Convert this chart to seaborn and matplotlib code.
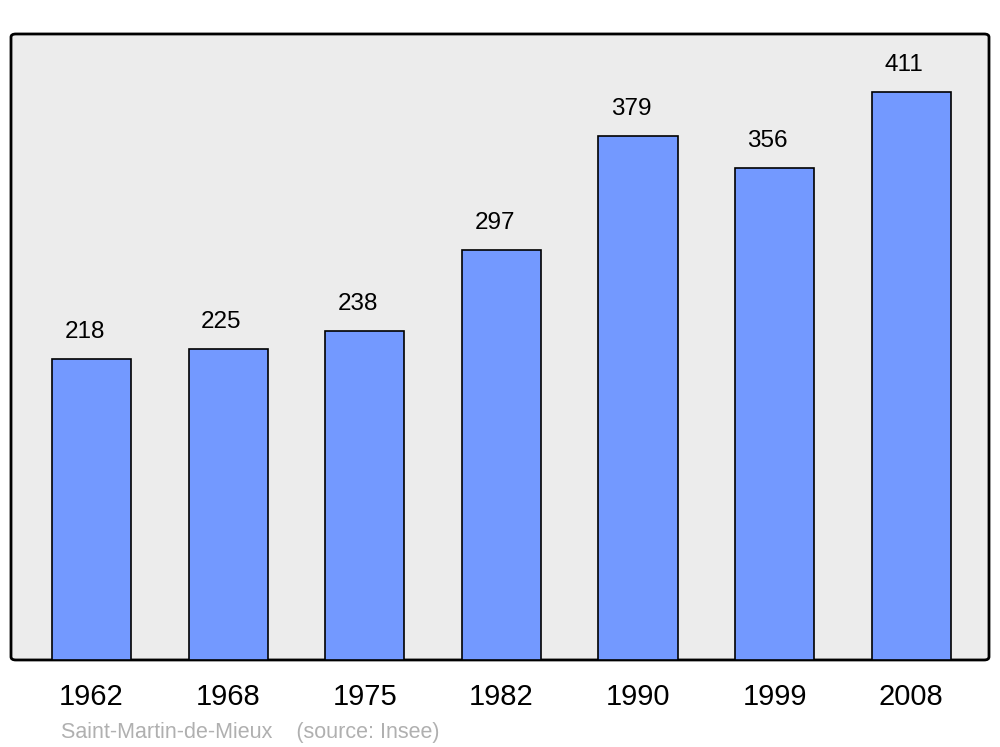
import matplotlib
matplotlib.use('Agg')
import matplotlib.pyplot as plt
from matplotlib.patches import FancyBboxPatch
import seaborn as sns
import pandas as pd

# Data
years = ['1962', '1968', '1975', '1982', '1990', '1999', '2008']
population = [218, 225, 238, 297, 379, 356, 411]
town = 'Saint-Martin-de-Mieux'
source = '(source: Insee)'

df = pd.DataFrame({'year': years, 'pop': population})

sns.set_style('white')
plt.rcParams['font.family'] = ['Liberation Sans', 'DejaVu Sans']

fig = plt.figure(figsize=(10, 7.47), dpi=100)
ax = fig.add_axes([0.011, 0.1165, 0.978, 0.838])
ax.set_facecolor('none')

# rounded frame behind the bars
frame = FancyBboxPatch((0, 0), 1, 1, transform=ax.transAxes,
                       boxstyle='round,pad=0,rounding_size=0.005',
                       facecolor='#ececec', edgecolor='black', linewidth=2,
                       zorder=0.2, clip_on=False)
ax.add_patch(frame)

sns.barplot(data=df, x='year', y='pop', color='#7399ff', saturation=1,
            width=0.58, edgecolor='black', linewidth=1.2, ax=ax, zorder=2)

for i, v in enumerate(population):
    ax.text(i - 0.05, v + 19.5, str(v), ha='center', va='center',
            fontsize=17.5, color='black')

ax.set_xlim(-0.59, 6.57)
ax.set_ylim(0, 453)
ax.set_yticks([])
ax.set_xlabel('')
ax.set_ylabel('')
ax.tick_params(axis='x', length=0, labelsize=21, pad=16.5, labelcolor='black')
for s in ax.spines.values():
    s.set_visible(False)

fig.text(0.061, 0.012, town + '    ' + source, color='#b0b0b0', fontsize=15.5)

plt.savefig('out.png', dpi=100)
